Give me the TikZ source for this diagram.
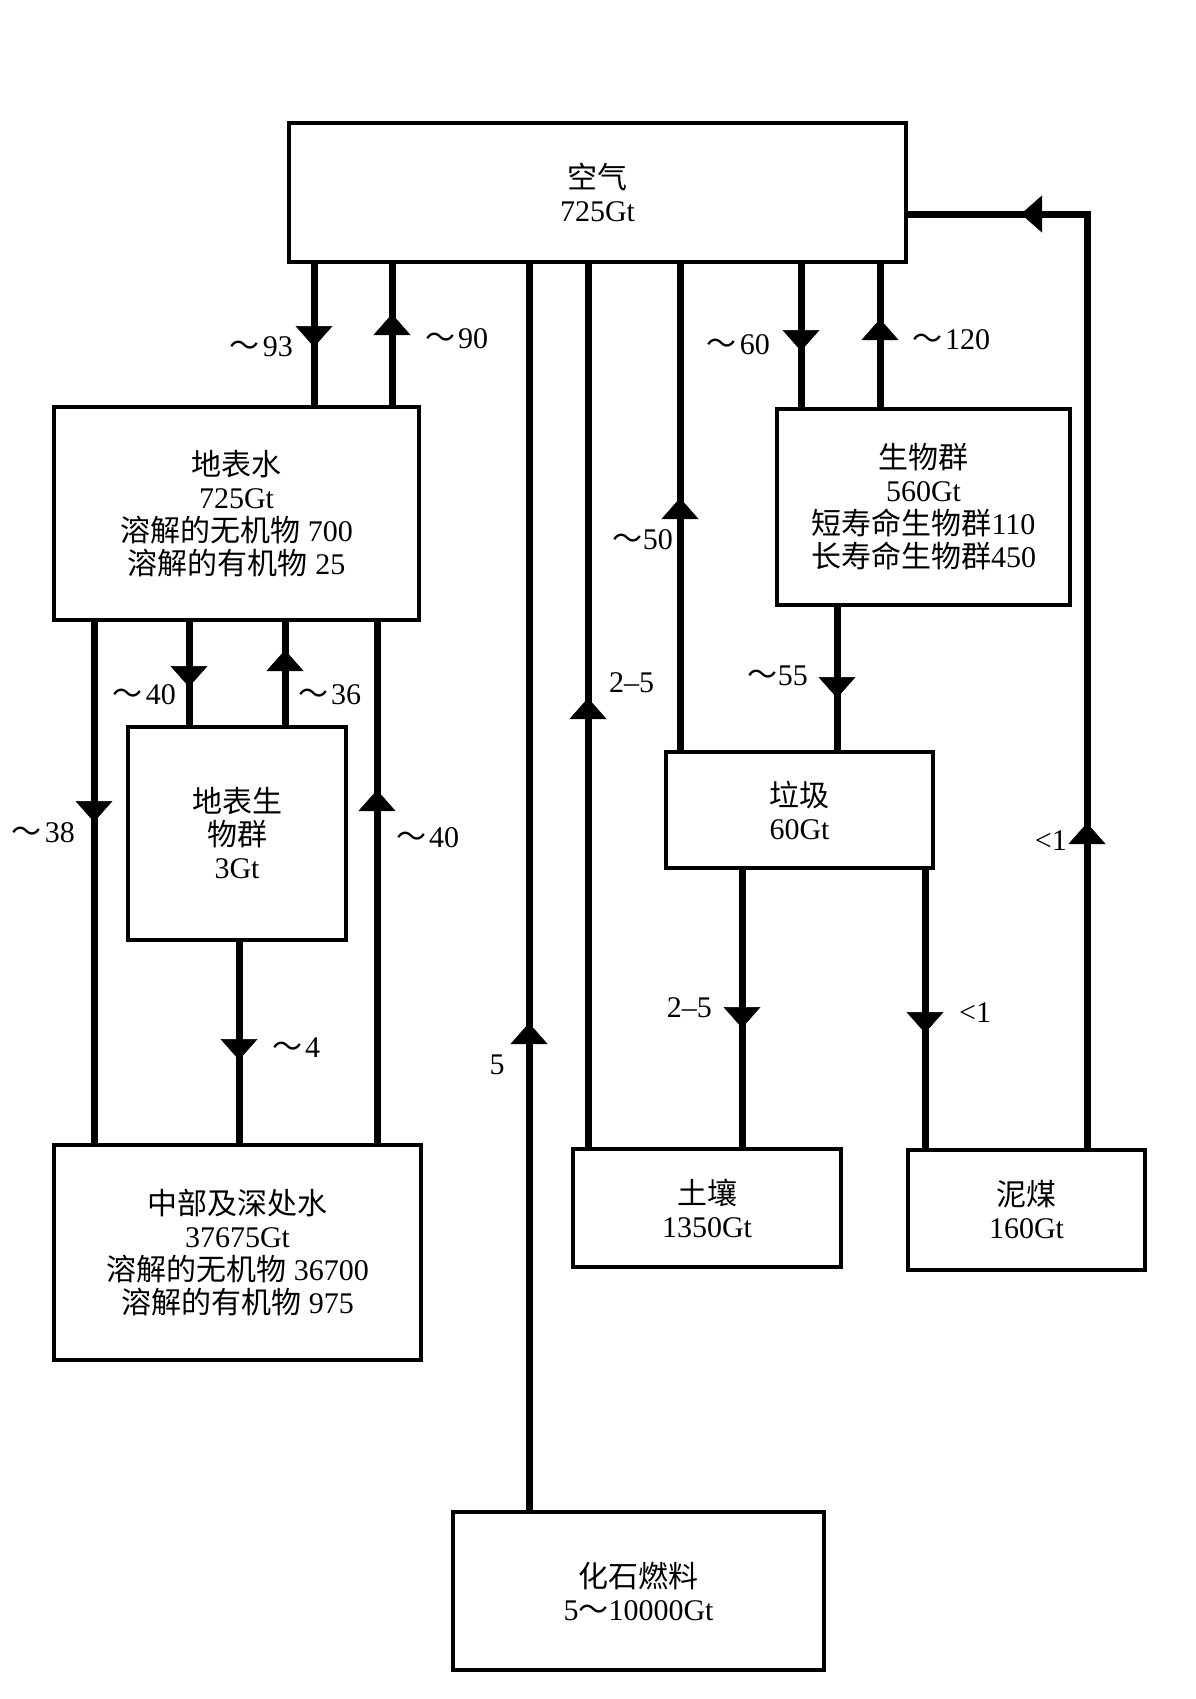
\documentclass[tikz,border=0pt]{standalone}
\usepackage{fontspec}
\setmainfont{Liberation Serif}
\newfontfamily\cjk{Noto Sans CJK SC}
\usetikzlibrary{arrows.meta,decorations.markings}

\newcommand{\approxto}{{\cjk ～}}
\tikzset{flowtip/.tip={Triangle[width=37pt,length=21pt,line width=0.5pt]}}
\tikzset{pool/.style={draw,line width=4pt,align=center,inner sep=0pt,
                      font=\fontsize{30}{33}\selectfont},
         flow/.style={line width=7pt},
         tipat/.style={postaction={decorate,decoration={markings,
                       mark=at position #1 with {\arrow{flowtip}}}}},
         amount/.style={inner sep=0pt,font=\fontsize{30}{33}\selectfont}}

\begin{document}
\begin{tikzpicture}[x=1pt,y=-1pt]
    \useasboundingbox (0,0) rectangle (1195,1699);
    % pools
    \node[pool,minimum width=617pt,minimum height=139pt] (air) at (597.5,192.5) {{\cjk 空气}\\725Gt};
    \node[pool,minimum width=365pt,minimum height=213pt] (sw) at (236.5,513.5)
        {{\cjk 地表水}\\725Gt\\{\cjk 溶解的无机物} 700\\{\cjk 溶解的有机物} 25};
    \node[pool,minimum width=218pt,minimum height=213pt] (sb) at (237,833.5) {{\cjk 地表生}\\{\cjk 物群}\\3Gt};
    \node[pool,minimum width=367pt,minimum height=215pt] (dw) at (237.5,1252.5)
        {{\cjk 中部及深处水}\\37675Gt\\{\cjk 溶解的无机物} 36700\\{\cjk 溶解的有机物} 975};
    \node[pool,minimum width=293pt,minimum height=196pt] (bio) at (923.5,507)
        {{\cjk 生物群}\\560Gt\\{\cjk 短寿命生物群}110\\{\cjk 长寿命生物群}450};
    \node[pool,minimum width=267pt,minimum height=116pt] (lit) at (799.5,810) {{\cjk 垃圾}\\60Gt};
    \node[pool,minimum width=268pt,minimum height=118pt] (soil) at (707,1208) {{\cjk 土壤}\\1350Gt};
    \node[pool,minimum width=237pt,minimum height=120pt] (peat) at (1026.5,1210) {{\cjk 泥煤}\\160Gt};
    \node[pool,minimum width=371pt,minimum height=158pt] (fossil) at (638.5,1591) {{\cjk 化石燃料}\\5\approxto10000Gt};
    % fluxes
    \draw[flow,tipat=83pt]  (air.south -| 314,0) -- (sw.north -| 314,0);
    \draw[flow,tipat=91pt]  (sw.north -| 392,0) -- (air.south -| 392,0);
    \draw[flow,tipat=65pt]  (sw.south -| 189,0) -- (sb.north -| 189,0);
    \draw[flow,tipat=75pt]  (sb.north -| 285,0) -- (sw.south -| 285,0);
    \draw[flow,tipat=200pt] (sw.south -| 94,0) -- (dw.north -| 94,0);
    \draw[flow,tipat=353pt] (dw.north -| 377,0) -- (sw.south -| 377,0);
    \draw[flow,tipat=118pt] (sb.south -| 239,0) -- (dw.north -| 239,0);
    \draw[flow,tipat=487pt] (fossil.north -| 529,0) -- (air.south -| 529,0);
    \draw[flow,tipat=449pt] (soil.north -| 588,0) -- (air.south -| 588,0);
    \draw[flow,tipat=252pt] (lit.north -| 680,0) -- (air.south -| 680,0);
    \draw[flow,tipat=87pt]  (air.south -| 801,0) -- (bio.north -| 801,0);
    \draw[flow,tipat=88pt]  (bio.north -| 880,0) -- (air.south -| 880,0);
    \draw[flow,tipat=91pt]  (bio.south -| 837,0) -- (lit.north -| 837,0);
    \draw[flow,tipat=158pt] (lit.south -| 742,0) -- (soil.north -| 742,0);
    \draw[flow,tipat=163pt] (lit.south -| 925,0) -- (peat.north -| 925,0);
    \draw[flow,tipat=325pt,tipat=1000pt] (peat.north -| 1087,0) |- (air.east |- 0,214);
    % amounts
    \node[amount,anchor=east] (f93) at (293,347) {\approxto\hspace{3pt}93};
    \node[amount,anchor=west] (f90) at (425,339) {\approxto\hspace{3pt}90};
    \node[amount,anchor=east] (f40a) at (176,695) {\approxto\hspace{3pt}40};
    \node[amount,anchor=west] (f36) at (298,695) {\approxto\hspace{3pt}36};
    \node[amount,anchor=east] (f38) at (75,833) {\approxto\hspace{3pt}38};
    \node[amount,anchor=west] (f40b) at (396,838) {\approxto\hspace{3pt}40};
    \node[amount,anchor=west] (f4) at (272,1048) {\approxto\hspace{3pt}4};
    \node[amount] (f5) at (497,1065) {5};
    \node[amount,anchor=west] (f25a) at (609,683) {2–5};
    \node[amount,anchor=east] (f50) at (673,540) {\approxto50};
    \node[amount,anchor=east] (f60) at (770,345) {\approxto\hspace{3pt}60};
    \node[amount,anchor=west] (f120) at (912,340) {\approxto\hspace{3pt}120};
    \node[amount,anchor=east] (f55) at (808,676) {\approxto55};
    \node[amount,anchor=east] (f25b) at (712,1008) {2–5};
    \node[amount,anchor=west] (f1a) at (959,1013) {<1};
    \node[amount,anchor=east] (f1b) at (1067,841) {<1};
\end{tikzpicture}
\end{document}
